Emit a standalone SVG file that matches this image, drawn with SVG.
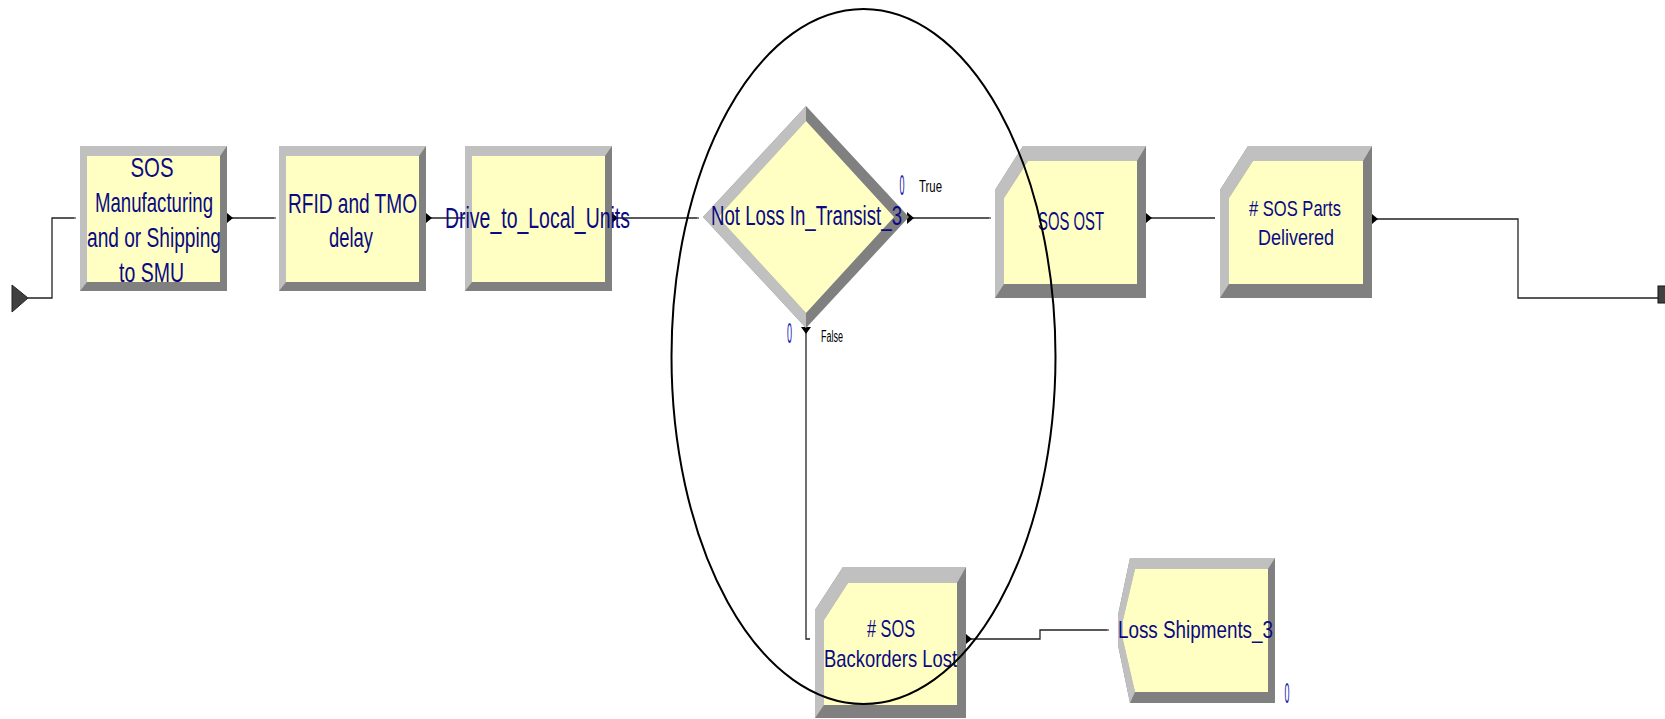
<svg xmlns="http://www.w3.org/2000/svg" width="1665" height="719" viewBox="0 0 1665 719">
<style>
.dk{fill:#808080}
.lt{fill:#c0c0c0}
.fc{fill:#ffffc4}
.lbl{font-family:"Liberation Sans",Arial,sans-serif;fill:#0a0a82;text-anchor:middle}
.sm{font-family:"Liberation Sans",Arial,sans-serif;fill:#000;font-size:16px}
.cnt{font-family:"Liberation Sans",Arial,sans-serif;fill:#2020b0;font-size:30px;text-anchor:middle}
.ln{fill:none;stroke:#222;stroke-width:1.3}
.ar{fill:#000}
.pt{fill:#888}
</style>
<rect width="1665" height="719" fill="#fff"/>

<g id="connectors">
<polyline class="ln" points="28,298 52,298 52,218 75,218"/>
<polyline class="ln" points="227,218 275,218"/>
<polyline class="ln" points="426,218 465,218"/>
<polyline class="ln" points="612,218 698,218"/>
<polyline class="ln" points="909,218 990,218"/>
<polyline class="ln" points="1146,218 1215,218"/>
<polyline class="ln" points="1372,219 1518,219 1518,298 1658,298"/>
<polyline class="ln" points="806,328 806,639 810,639"/>
<polyline class="ln" points="966,639 1040,639 1040,630 1108,630"/>
<path class="ar" d="M227,213 L233,218 L227,223 Z"/>
<path class="ar" d="M426,213 L432,218 L426,223 Z"/>
<path class="ar" d="M612,213 L618,218 L612,223 Z"/>
<path class="ar" d="M907,212 L914,218 L907,224 Z"/>
<path class="ar" d="M1146,213 L1152,218 L1146,223 Z"/>
<path class="ar" d="M1372,214 L1378,219 L1372,224 Z"/>
<path class="ar" d="M801,327 L806,334 L811,327 Z"/>
<path class="ar" d="M966,634 L972,639 L966,644 Z"/>
<rect class="pt" x="74" y="217" width="2" height="2"/>
<rect class="pt" x="274" y="217" width="2" height="2"/>
<rect class="pt" x="697" y="217" width="2" height="2"/>
<rect class="pt" x="989" y="217" width="2" height="2"/>
<rect class="pt" x="1107" y="629" width="2" height="2"/>
</g>

<g id="create">
<path d="M12,285 L28,298 L12,312 Z" fill="#404040" stroke="#222" stroke-width="1"/>
</g>

<g id="box-sos-manufacturing">
<rect class="dk" x="80" y="146" width="147" height="145"/>
<polygon class="lt" points="80,146 227,146 220,156 87,156 87,282 80,291"/>
<rect class="fc" x="87" y="156" width="133" height="126"/>
<text class="lbl" font-size="28"><tspan x="152" y="177" textLength="43" lengthAdjust="spacingAndGlyphs">SOS</tspan><tspan x="154" y="212" textLength="118" lengthAdjust="spacingAndGlyphs">Manufacturing</tspan><tspan x="154" y="247" textLength="134" lengthAdjust="spacingAndGlyphs">and or Shipping</tspan><tspan x="151.5" y="282" textLength="65" lengthAdjust="spacingAndGlyphs">to SMU</tspan></text>
</g>

<g id="box-rfid">
<rect class="dk" x="279" y="146" width="147" height="145"/>
<polygon class="lt" points="279,146 426,146 419,156 286,156 286,282 279,291"/>
<rect class="fc" x="286" y="156" width="133" height="126"/>
<text class="lbl" font-size="28"><tspan x="352.5" y="213" textLength="129" lengthAdjust="spacingAndGlyphs">RFID and TMO</tspan><tspan x="351" y="247" textLength="44" lengthAdjust="spacingAndGlyphs">delay</tspan></text>
</g>

<g id="box-drive">
<rect class="dk" x="465" y="146" width="147" height="145"/>
<polygon class="lt" points="465,146 612,146 605,156 472,156 472,282 465,291"/>
<rect class="fc" x="472" y="156" width="133" height="126"/>
<text class="lbl" font-size="30" x="537.5" y="228" textLength="185" lengthAdjust="spacingAndGlyphs">Drive_to_Local_Units</text>
</g>

<g id="decide">
<polygon class="dk" points="806,106 909,217 806,328 703,217"/>
<polygon class="lt" points="806,106 806,121 718,217 806,313 806,328 703,217"/>
<polygon class="fc" points="806,121 894,217 806,313 718,217"/>
<text class="lbl" font-size="27" x="806.5" y="225" textLength="191" lengthAdjust="spacingAndGlyphs">Not Loss In_Transist_3</text>
<text class="cnt" transform="translate(902,195) scale(0.3,1)">0</text>
<text class="cnt" transform="translate(789.5,343) scale(0.3,1)">0</text>
<text class="sm" x="919" y="192" textLength="23" lengthAdjust="spacingAndGlyphs">True</text>
<text class="sm" x="821" y="342" textLength="22" lengthAdjust="spacingAndGlyphs">False</text>
</g>

<g id="record-sos-ost">
<polygon class="dk" points="995,190 1023,146 1146,146 1146,298 995,298"/>
<polygon class="lt" points="995,190 1023,146 1146,146 1137,161 1028,161 1004,198 1004,284 995,298"/>
<polygon class="fc" points="1004,198 1028,161 1137,161 1137,284 1004,284"/>
<text class="lbl" font-size="25" x="1071" y="230" textLength="66" lengthAdjust="spacingAndGlyphs">SOS OST</text>
</g>

<g id="record-parts-delivered">
<polygon class="dk" points="1220,190 1248,146 1372,146 1372,298 1220,298"/>
<polygon class="lt" points="1220,190 1248,146 1372,146 1363,161 1253,161 1229,198 1229,284 1220,298"/>
<polygon class="fc" points="1229,198 1253,161 1363,161 1363,284 1229,284"/>
<text class="lbl" font-size="22"><tspan x="1295" y="216" textLength="92" lengthAdjust="spacingAndGlyphs"># SOS Parts</tspan><tspan x="1296" y="245" textLength="76" lengthAdjust="spacingAndGlyphs">Delivered</tspan></text>
</g>

<g id="record-backorders-lost">
<polygon class="dk" points="815,610 843,567 966,567 966,718 815,718"/>
<polygon class="lt" points="815,610 843,567 966,567 957,583 848,583 824,620 824,705 815,718"/>
<polygon class="fc" points="824,620 848,583 957,583 957,705 824,705"/>
<text class="lbl" font-size="24"><tspan x="891" y="637" textLength="48" lengthAdjust="spacingAndGlyphs"># SOS</tspan><tspan x="890.5" y="667" textLength="133" lengthAdjust="spacingAndGlyphs">Backorders Lost</tspan></text>
</g>

<g id="dispose-loss-shipments">
<polygon class="dk" points="1130,558 1275,558 1275,703 1130,703 1118,645 1118,615"/>
<polygon class="lt" points="1130,558 1275,558 1268,569 1135,569 1123,620 1123,640 1135,692 1130,703 1118,645 1118,615"/>
<polygon class="fc" points="1135,569 1268,569 1268,692 1135,692 1123,640 1123,620"/>
<text class="lbl" font-size="23" x="1195.5" y="638" textLength="155" lengthAdjust="spacingAndGlyphs">Loss Shipments_3</text>
<text class="cnt" transform="translate(1287,703) scale(0.3,1)">0</text>
</g>

<g id="dispose-end">
<rect x="1658" y="286" width="10" height="17" fill="#404040" stroke="#111" stroke-width="1"/>
</g>

<g id="ellipse-highlight">
<ellipse cx="863.5" cy="356.5" rx="192" ry="347.5" fill="none" stroke="#000" stroke-width="2"/>
</g>
</svg>
